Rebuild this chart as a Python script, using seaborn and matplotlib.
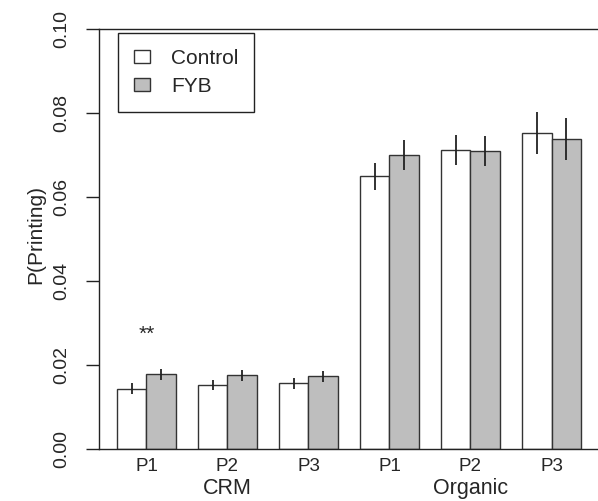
import pandas as pd
import seaborn as sns
import matplotlib.pyplot as plt
from matplotlib.patches import Patch
from matplotlib import transforms

# values
systems = ["CRM", "CRM", "CRM", "Organic", "Organic", "Organic"]
periods = ["P1", "P2", "P3", "P1", "P2", "P3"]
control_mean = [0.0144, 0.0152, 0.0156, 0.0649, 0.0712, 0.0752]
control_err = [0.0012, 0.0012, 0.0012, 0.0033, 0.0035, 0.0050]
fyb_mean = [0.0178, 0.0176, 0.0173, 0.0700, 0.0710, 0.0738]
fyb_err = [0.0013, 0.0013, 0.0013, 0.0035, 0.0035, 0.0051]
treatments = ["Control", "FYB"]
colors = {"Control": "white", "FYB": "#BEBEBE"}

groups = [f"{s} {p}" for s, p in zip(systems, periods)]
df = pd.DataFrame({
    "group": groups * 2,
    "treatment": ["Control"] * 6 + ["FYB"] * 6,
    "p": control_mean + fyb_mean,
    "err": control_err + fyb_err,
})

sns.set_style("ticks")
plt.rcParams["font.family"] = ["Liberation Sans", "DejaVu Sans"]

fig = plt.figure(figsize=(5.98, 5.01), dpi=100)
ax = fig.add_axes([99 / 598, 52 / 501, 510 / 598, 420 / 501])

sns.barplot(
    data=df, x="group", y="p", hue="treatment", order=groups,
    hue_order=treatments, palette=colors, errorbar=None,
    width=0.728, gap=0, edgecolor="#333333", linewidth=1.0,
    legend=False, ax=ax,
)

# error bars from the bar patches
for patch, (_, row) in zip(ax.patches, df.iterrows()):
    xc = patch.get_x() + patch.get_width() / 2
    ax.vlines(xc, row["p"] - row["err"], row["p"] + row["err"],
              color="#222222", lw=1.3)

ax.set_xlim(-0.586, 5.574 + 11 / 81)
ax.set_ylim(0, 0.10)
ax.set_yticks([0, 0.02, 0.04, 0.06, 0.08, 0.10])
ax.set_yticklabels(["0.00", "0.02", "0.04", "0.06", "0.08", "0.10"])
ax.set_xticks(range(6))
ax.set_xticklabels(periods, fontsize=13.5)
ax.tick_params(axis="x", length=0, pad=6.5)
ax.tick_params(axis="y", length=9.4, width=1, pad=11, labelsize=14,
               labelrotation=90, color="#222222")
for lbl in ax.get_yticklabels():
    lbl.set_va("center")

for side in ["left", "bottom", "top"]:
    ax.spines[side].set_linewidth(1)
    ax.spines[side].set_color("#222222")
ax.spines["right"].set_visible(False)

ax.set_xlabel("")
ax.set_ylabel("P(Printing)", fontsize=15)
ax.yaxis.set_label_coords(-0.124, 0.51)
ax.yaxis.label.set_va("center")

# system labels under the middle group
trans = transforms.blended_transform_factory(ax.transData, ax.transAxes)
for xpos, name in [(1, "CRM"), (4, "Organic")]:
    ax.text(xpos, -0.095, name, transform=trans, ha="center", va="center",
            fontsize=15.5)

ax.text(0, 0.0272, "**", ha="center", va="center", fontsize=15)

handles = [Patch(facecolor=colors[t], edgecolor="#333333", lw=1) for t in treatments]
ax.legend(handles, treatments, loc="upper left", bbox_to_anchor=(0.0375, 0.99),
          borderaxespad=0, fontsize=15, frameon=True, fancybox=False,
          edgecolor="#222222", framealpha=1, handlelength=0.8,
          handleheight=0.6, handletextpad=1.0, labelspacing=0.45,
          borderpad=0.75)
ax.get_legend().get_frame().set_linewidth(1)

fig.savefig("out.png", dpi=100)
